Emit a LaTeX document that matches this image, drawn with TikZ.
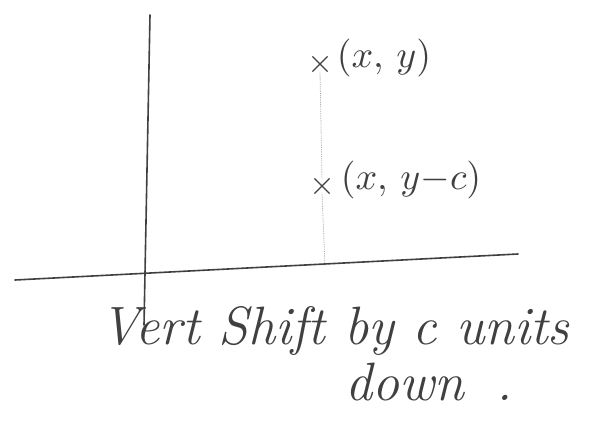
\documentclass[tikz,border=0pt]{standalone}
\usepackage{fontspec}
\usetikzlibrary{shapes.misc}
\tikzset{
  pen/.style={draw=black!75, line width=1.6pt, line cap=round},
  guide/.style={draw=black!35, line width=0.8pt, densely dotted},
  ptmark/.style={cross out, draw=black!75, line width=1.1pt, minimum size=14pt, inner sep=0pt},
  lbl/.style={text=black!75, inner sep=0pt, anchor=west, scale=3.8},
  caption/.style={text=black!75, font=\fontsize{54}{58}\selectfont\itshape, inner sep=0pt, anchor=base west}
}
\begin{document}
\begin{tikzpicture}[x=1pt,y=-1pt]
\useasboundingbox (0,0) rectangle (606,426);
% axes
\coordinate (yt) at (150,15);
\coordinate (yb) at (144,325);
\coordinate (xl) at (15,280);
\coordinate (xr) at (518,254);
\draw[pen] (yt) -- (yb);
\draw[pen] (xl) -- (xr);
% points
\node[ptmark] (p1) at (320,64) {};
\node[ptmark] (p2) at (322,186) {};
\coordinate (foot) at (325,266);
\draw[guide] (p1.south) -- (p2.north);
\draw[guide] (p2.south) -- (foot);
\node[lbl] (l1) at (336,58) {$(x,\,y)$};
\node[lbl] (l2) at (340,180) {$(x,\,y{-}c)$};
% caption
\node[caption] (c1) at (100,344) {Vert Shift by c units};
\node[caption] (c2) at (345,400) {down\hspace{0.6em}.};
\end{tikzpicture}
\end{document}
